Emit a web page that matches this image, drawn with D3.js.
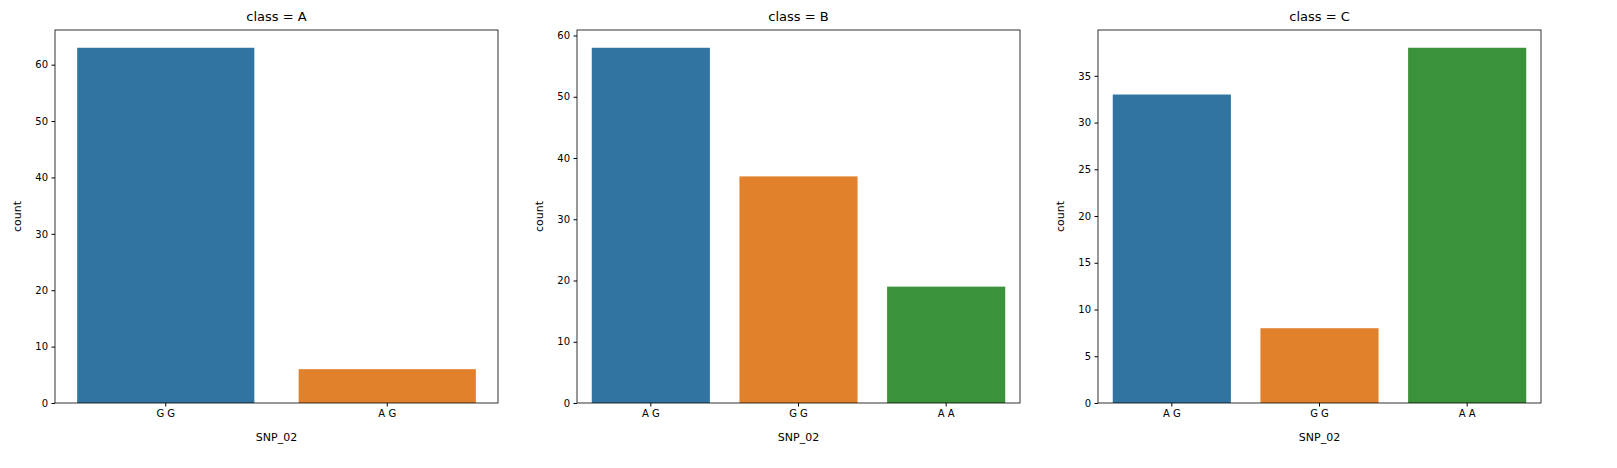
<!DOCTYPE html>
<html><head><meta charset="utf-8">
<script src="https://d3js.org/d3.v7.min.js"></script>
<style>body{margin:0;background:#fff;font-family:"DejaVu Sans",sans-serif}</style>
</head><body><svg id="c" width="1617" height="468"></svg>
<script>
const panelTitles = ["class = A","class = B","class = C"];
const catsA = ["G G","A G"], valsA = [63,6];
const catsB = ["A G","G G","A A"], valsB = [58,37,19];
const catsC = ["A G","G G","A A"], valsC = [33,8,38];
const colors = ["#3274a1","#e1812c","#3a923a"];
(function(){
const panels = [{c:catsA,v:valsA},{c:catsB,v:valsB},{c:catsC,v:valsC}];
const lefts = [55,577,1098], W = 443, yTop = 30, yBot = 403;
const svg = d3.select("#c");
panels.forEach((p,i)=>{
  const g = svg.append("g").attr("transform",`translate(${lefts[i]},0)`);
  const x = d3.scaleBand().domain(p.c).range([0,W]).paddingInner(0.2).paddingOuter(0.1);
  const y = d3.scaleLinear().domain([0,d3.max(p.v)*1.05]).range([yBot,yTop]);
  g.selectAll("rect.b").data(p.c).join("rect")
    .attr("x",d=>x(d)).attr("width",x.bandwidth())
    .attr("y",(d,j)=>y(p.v[j])).attr("height",(d,j)=>yBot-y(p.v[j]))
    .attr("fill",(d,j)=>colors[j]);
  const ya = g.append("g").call(d3.axisLeft(y).ticks(i==2?8:7).tickSizeOuter(0).tickSize(3.5).tickPadding(3.5));
  const xa = g.append("g").attr("transform",`translate(0,${yBot})`).call(d3.axisBottom(x).tickSizeOuter(0).tickSize(3.5).tickPadding(3.5));
  [ya,xa].forEach(a=>{a.select(".domain").remove();a.selectAll("text").attr("font-size",10).attr("fill","#000").attr("font-family","DejaVu Sans");a.selectAll("line").attr("stroke","#000");});
  g.append("rect").attr("x",0).attr("y",yTop).attr("width",W).attr("height",yBot-yTop).attr("fill","none").attr("stroke","#000").attr("stroke-width",0.8);
  g.append("text").attr("x",W/2).attr("y",21).attr("text-anchor","middle").attr("font-size",13).text(panelTitles[i]);
  g.append("text").attr("x",W/2).attr("y",441).attr("text-anchor","middle").attr("font-size",11).text("SNP_02");
  g.append("text").attr("transform",`translate(-34,${(yTop+yBot)/2}) rotate(-90)`).attr("text-anchor","middle").attr("font-size",11).text("count");
});
})();
</script></body></html>
